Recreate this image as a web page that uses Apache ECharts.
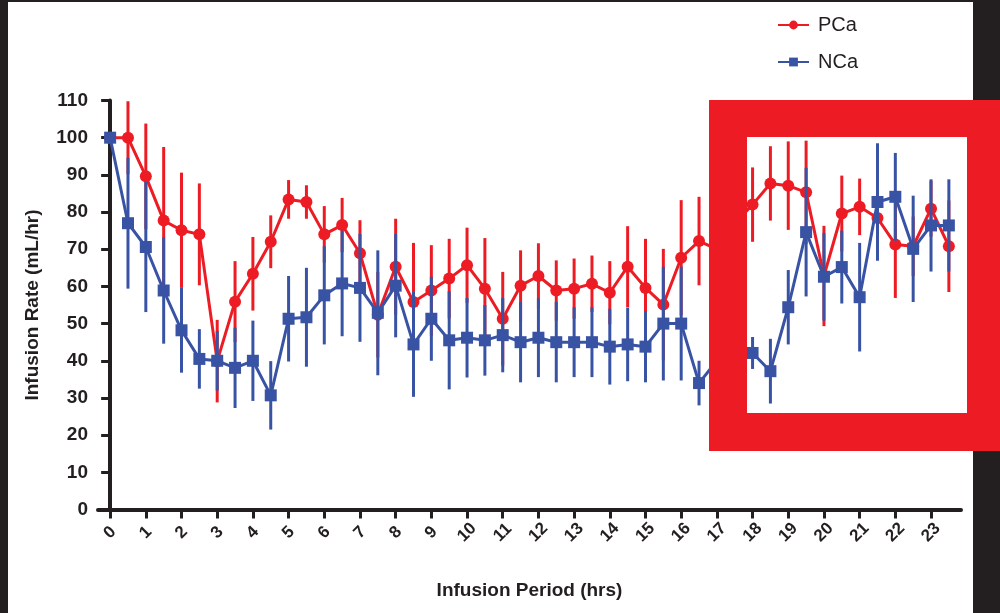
<!DOCTYPE html>
<html>
<head>
<meta charset="utf-8">
<script src="https://cdn.jsdelivr.net/npm/echarts@6/dist/echarts.min.js"></script>
<style>
html,body{margin:0;padding:0;background:#fff;}
#chart{width:1000px;height:613px;}
</style>
</head>
<body>
<div id="chart"></div>
<script>
var hours = [0,0.5,1,1.5,2,2.5,3,3.5,4,4.5,5,5.5,6,6.5,7,7.5,8,8.5,9,9.5,10,10.5,11,11.5,12,12.5,13,13.5,14,14.5,15,15.5,16,16.5,17,17.5,18,18.5,19,19.5,20,20.5,21,21.5,22,22.5,23,23.5];
var tickHours = [0,1,2,3,4,5,6,7,8,9,10,11,12,13,14,15,16,17,18,19,20,21,22,23];
var yTicks = [0,10,20,30,40,50,60,70,80,90,100,110];

var pcaMean = [100,100,89.6,77.7,75.1,74,39.9,55.9,63.4,72,83.4,82.7,74,76.5,68.9,52.4,65.3,55.8,58.9,62.1,65.7,59.4,51.3,60.2,62.8,58.9,59.4,60.7,58.3,65.3,59.6,55.1,67.7,72.2,70,77,82,87.7,87.1,85.3,62.8,79.6,81.4,78.4,71.3,70.8,80.9,70.8];
var pcaSD   = [0,9.8,14.2,19.8,15.5,13.7,11.1,10.9,9.9,7.1,5.2,4.5,7.6,7.3,8.9,11.5,12.9,15.9,12.2,10.7,10.1,13.6,12.6,9.5,8.8,8.1,8.1,7.6,8.5,10.9,13.2,15,15.5,11.9,12,12,10,10,11.9,13.9,13.5,10.2,7.6,10.3,14.4,8,7.5,12.3];

var ncaMean = [100,77,70.6,58.9,48.2,40.5,40,38.1,40,30.7,51.3,51.7,57.6,60.8,59.6,52.9,60.2,44.4,51.3,45.5,46.2,45.5,46.9,45,46.2,45,45,45,43.8,44.4,43.8,50,50,34,40,38.5,42.1,37.2,54.4,74.6,62.6,65.2,57.1,82.7,84.1,70.1,76.4,76.4];
var ncaSD   = [0,17.6,17.5,14.3,11.4,8,8,10.8,10.8,9.2,11.5,13.3,13.2,14.2,14.5,16.8,13.9,14.1,11.3,13.2,10.7,9.5,10,10.8,10.6,10.8,9.4,9.4,10.2,9.9,9.6,15.3,15.3,6,8,8,4.3,8.7,10,17.3,11.8,9.8,14.6,15.8,11.8,14.3,12.4,12.4];

var RED = '#ED1C24';
var BLUE = '#3953A4';
var FONT = '"Liberation Sans", Arial, Helvetica, sans-serif';

function pts(mean){ return hours.map(function(h,i){ return [h, mean[i]]; }); }
function errs(mean, sd){ return hours.map(function(h,i){ return [h, mean[i]-sd[i], mean[i]+sd[i]]; }); }
function errRender(color){
  return function(params, api){
    var a = api.coord([api.value(0), api.value(1)]);
    var b = api.coord([api.value(0), api.value(2)]);
    return {type:'line', shape:{x1:a[0],y1:a[1],x2:b[0],y2:b[1]}, style:{stroke:color, lineWidth:3}};
  };
}

var chart = echarts.init(document.getElementById('chart'), null, {renderer:'canvas'});
chart.setOption({
  animation:false,
  backgroundColor:'#fff',
  grid:{left:98, right:39, top:100.5, bottom:103.5, containLabel:false},
  legend:{
    orient:'vertical', left:772, top:10, itemWidth:31, itemHeight:11, itemGap:17,
    data:['PCa','NCa'],
    textStyle:{fontFamily:FONT, fontSize:20, color:'#231F20', padding:[0,0,0,4]}
  },
  xAxis:{
    type:'value', min:-0.34, max:23.84,
    name:'Infusion Period (hrs)', nameLocation:'middle', nameGap:72,
    nameTextStyle:{fontFamily:FONT, fontSize:19, fontWeight:'bold', color:'#231F20'},
    axisLine:{lineStyle:{color:'#231F20', width:4}},
    axisTick:{show:true, length:9, lineStyle:{color:'#231F20', width:3}, customValues:tickHours},
    axisLabel:{rotate:45, align:'center', verticalAlign:'middle', fontFamily:FONT, fontSize:17, fontWeight:'bold', color:'#231F20', margin:23, customValues:tickHours},
    splitLine:{show:false}
  },
  yAxis:{
    type:'value', min:0, max:110, interval:10,
    name:'Infusion Rate (mL/hr)', nameLocation:'middle', nameGap:56, nameRotate:90,
    nameTextStyle:{fontFamily:FONT, fontSize:19, fontWeight:'bold', color:'#231F20'},
    axisLine:{show:true, lineStyle:{color:'#231F20', width:4}},
    axisTick:{show:true, length:9, lineStyle:{color:'#231F20', width:3}},
    axisLabel:{fontFamily:FONT, fontSize:19, fontWeight:'bold', color:'#231F20', margin:10},
    splitLine:{show:false}
  },
  series:[
    {type:'custom', name:'PCa SD', data:errs(pcaMean,pcaSD), renderItem:errRender(RED), z:2, silent:true},
    {type:'line', name:'PCa', data:pts(pcaMean), symbol:'circle', symbolSize:12,
     lineStyle:{color:RED, width:3}, itemStyle:{color:RED}, z:3},
    {type:'custom', name:'NCa SD', data:errs(ncaMean,ncaSD), renderItem:errRender(BLUE), z:4, silent:true},
    {type:'line', name:'NCa', data:pts(ncaMean), symbol:'rect', symbolSize:12,
     lineStyle:{color:BLUE, width:3}, itemStyle:{color:BLUE}, z:5}
  ],
  graphic:[
    {type:'rect', shape:{x:0,y:0,width:1000,height:2}, style:{fill:'#231F20'}, z:100},
    {type:'rect', shape:{x:0,y:0,width:8,height:613}, style:{fill:'#231F20'}, z:100},
    {type:'rect', shape:{x:973,y:0,width:27,height:613}, style:{fill:'#231F20'}, z:100},
    {type:'rect', shape:{x:709,y:100,width:291,height:37}, style:{fill:RED}, z:101},
    {type:'rect', shape:{x:709,y:413,width:291,height:38}, style:{fill:RED}, z:101},
    {type:'rect', shape:{x:709,y:137,width:38,height:276}, style:{fill:RED}, z:101},
    {type:'rect', shape:{x:967,y:137,width:33,height:276}, style:{fill:RED}, z:101}
  ]
});
</script>
</body>
</html>
